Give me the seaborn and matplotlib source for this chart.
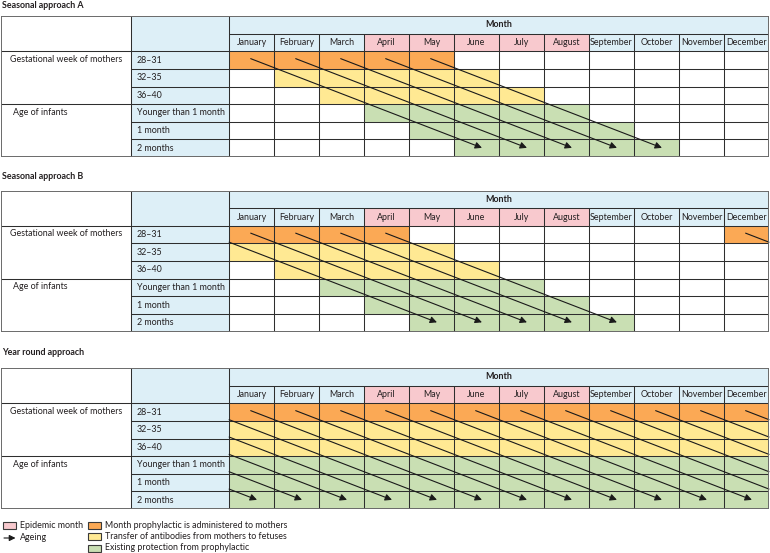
import numpy as np
import pandas as pd
import matplotlib.pyplot as plt
import seaborn as sns
from matplotlib.colors import ListedColormap
from matplotlib.patches import Rectangle

# month grid for the three approaches (Lancet style calendar figure)
months = ["January", "February", "March", "April", "May", "June", "July",
          "August", "September", "October", "November", "December"]
epidemic_months = ["April", "May", "June", "July", "August"]
row_labels = ["28–31", "32–35", "36–40", "Younger than 1 month", "1 month", "2 months"]
group_labels = ["Gestational week of mothers", "Age of infants"]
row_code = [1, 2, 2, 3, 3, 3]   # 1 administered, 2 transfer, 3 protection

# shaded months in each row (first row = month prophylactic is given)
shaded_a = [
    ["January", "February", "March", "April", "May"],
    ["February", "March", "April", "May", "June"],
    ["March", "April", "May", "June", "July"],
    ["April", "May", "June", "July", "August"],
    ["May", "June", "July", "August", "September"],
    ["June", "July", "August", "September", "October"],
]
shaded_b = [
    ["December", "January", "February", "March", "April"],
    ["January", "February", "March", "April", "May"],
    ["February", "March", "April", "May", "June"],
    ["March", "April", "May", "June", "July"],
    ["April", "May", "June", "July", "August"],
    ["May", "June", "July", "August", "September"],
]
shaded_c = [months] * 6

panels = [("Seasonal approach A", shaded_a),
          ("Seasonal approach B", shaded_b),
          ("Year round approach", shaded_c)]

c_white = "#FFFFFF"
c_orange = "#FBA955"
c_yellow = "#FFE993"
c_green = "#C9DFB3"
c_pink = "#F8C9CE"
c_blue = "#DDEFF7"
c_line = "#2e2e2e"
c_text = "#231f20"
cmap = ListedColormap([c_white, c_orange, c_yellow, c_green, c_pink, c_blue])

sns.set_theme(style="white")
plt.rcParams["font.family"] = ["Lato", "DejaVu Sans"]
FS = 6.4

W, H = 770, 553
fig = plt.figure(figsize=(W / 100, H / 100), dpi=100)

panel_tops = [16, 190.5, 368]   # pixel rows of the table tops
panel_h = 141
title_y = [5, 176.5, 352.5]
lab_w = 2.18     # width of row-label column, in month units
grp_w = 2.89     # width of group-label column
LW = 0.75

for (title, shaded), top, ty in zip(panels, panel_tops, title_y):
    ax = fig.add_axes([1 / W, 1 - (top + panel_h) / H, 768 / W, panel_h / H])

    grid = np.zeros((7, 12), dtype=int)
    for j, m in enumerate(months):
        grid[0, j] = 4 if m in epidemic_months else 5
    for i, mlist in enumerate(shaded):
        for m in mlist:
            grid[i + 1, months.index(m)] = row_code[i]
    df = pd.DataFrame(grid, columns=months)

    sns.heatmap(df, ax=ax, cmap=cmap, vmin=-0.5, vmax=5.5, cbar=False,
                linewidths=0, xticklabels=False, yticklabels=False)
    ax.set_xlim(-(lab_w + grp_w), 12)
    ax.set_ylim(7, -1)
    ax.set_xlabel("")
    ax.set_ylabel("")

    # label columns and "Month" header
    ax.add_patch(Rectangle((-lab_w, -1), lab_w, 8, fc=c_blue, ec="none", zorder=0.5))
    ax.add_patch(Rectangle((0, -1), 12, 1, fc=c_blue, ec="none", zorder=0.5))
    ax.text(6, -0.5, "Month", ha="center", va="center", fontsize=FS,
            fontweight="bold", color=c_text)
    for j, m in enumerate(months):
        ax.text(j + 0.5, 0.52, m, ha="center", va="center", fontsize=FS, color=c_text)
    for i, lab in enumerate(row_labels):
        ax.text(-lab_w + 0.13, i + 1.5, lab, ha="left", va="center",
                fontsize=FS, color=c_text)
    ax.text(-(lab_w + grp_w) + 0.2, 1.45, group_labels[0], ha="left",
            va="center", fontsize=FS, color=c_text)
    ax.text(-(lab_w + grp_w) + 0.27, 4.45, group_labels[1], ha="left",
            va="center", fontsize=FS, color=c_text)

    # table rules
    ax.hlines(range(0, 8), 0, 12, color=c_line, lw=LW, zorder=3)
    ax.vlines(range(1, 12), 0, 7, color=c_line, lw=LW, zorder=3)
    ax.hlines(range(1, 7), -lab_w, 0, color=c_line, lw=LW, zorder=3)
    ax.hlines([1, 4], -(lab_w + grp_w), -lab_w, color=c_line, lw=LW, zorder=3)
    ax.vlines([-lab_w, 0], -1, 7, color=c_line, lw=LW, zorder=3)
    ax.add_patch(Rectangle((-(lab_w + grp_w), -1), lab_w + grp_w + 12, 8,
                           fill=False, ec="#6a6a6a", lw=1.4, zorder=5))

    # ageing arrows from each administration month, wrapping round the year
    starts = [months.index(m) for m in shaded[0]]
    for s in starts:
        for shift in (0, -12):
            x0, y0 = s + shift + 0.48, 1.42
            x1, y1 = s + shift + 5.62, 6.48
            if x1 <= 0 or x0 >= 12:
                continue
            if x0 < 0:
                t = -x0 / (x1 - x0)
                x0, y0 = 0, y0 + t * (y1 - y0)
            head = True
            if x1 > 12:
                t = (12 - x0) / (x1 - x0)
                x1, y1 = 12, y0 + t * (y1 - y0)
                head = False
            ax.annotate("", xy=(x1, y1), xytext=(x0, y0),
                        arrowprops=dict(arrowstyle="-|>" if head else "-",
                                        color="#1a1a1a", lw=0.8,
                                        mutation_scale=10,
                                        shrinkA=0, shrinkB=0), zorder=4)

    fig.text(2 / W, 1 - ty / H, title, ha="left", va="center", fontsize=FS,
             fontweight="bold", color=c_text)

# legend
lg = fig.add_axes([0, 0, 1, 1])
lg.set_xlim(0, W)
lg.set_ylim(H, 0)
lg.axis("off")
legend_boxes = [(3, 525, c_pink, "Epidemic month"),
                (88, 525, c_orange, "Month prophylactic is administered to mothers"),
                (88, 536.5, c_yellow, "Transfer of antibodies from mothers to fetuses"),
                (88, 548, c_green, "Existing protection from prophylactic")]
for x, y, col, lab in legend_boxes:
    lg.add_patch(Rectangle((x, y - 3.5), 13, 7, fc=col, ec="#3a3a3a", lw=0.8))
    lg.text(x + 17, y, lab, ha="left", va="center", fontsize=FS, color=c_text)
lg.annotate("", xy=(15.5, 538), xytext=(4, 538),
            arrowprops=dict(arrowstyle="-|>", color="#1a1a1a", lw=0.8,
                            mutation_scale=9, shrinkA=0, shrinkB=0))
lg.text(20, 538, "Ageing", ha="left", va="center", fontsize=FS, color=c_text)

fig.savefig("out.png", dpi=100)
